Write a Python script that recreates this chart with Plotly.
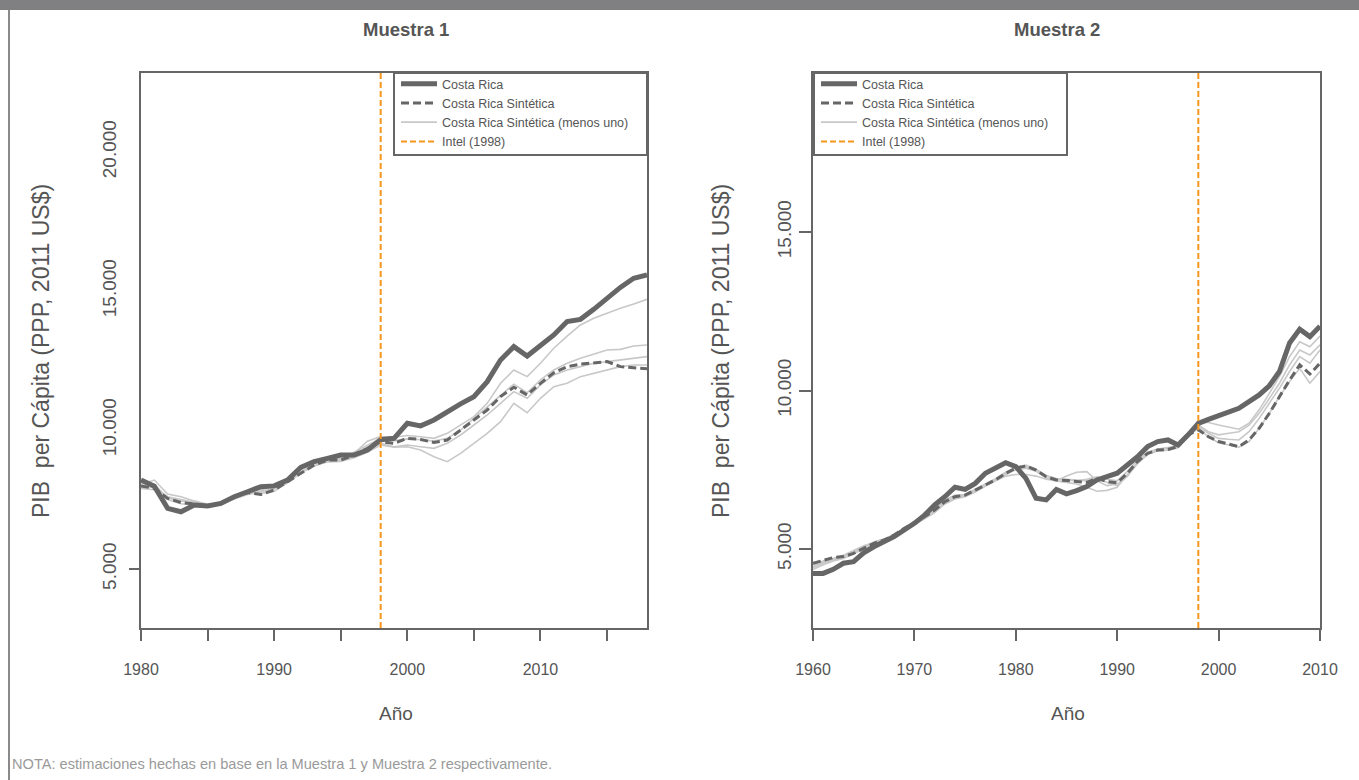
import plotly.graph_objects as go

# ---------------- data: Muestra 1 ----------------
years1 = list(range(1980, 2019))
cr1 = [8200, 7980, 7180, 7060, 7300, 7270, 7360, 7600, 7780, 7960,
       7990, 8200, 8660, 8860, 8980, 9100, 9100, 9280, 9650, 9700,
       10240, 10150, 10360, 10660, 10940, 11200, 11740, 12520, 13000, 12660,
       13060, 13420, 13900, 13980, 14340, 14740, 15130, 15460, 15580]
syn1 = [7990, 7900, 7540, 7390, 7340, 7270, 7390, 7600, 7750, 7680,
        7840, 8140, 8470, 8740, 8920, 8920, 9100, 9340, 9580, 9520,
        9700, 9660, 9550, 9640, 10000, 10360, 10720, 11200, 11540, 11260,
        11680, 12060, 12280, 12370, 12420, 12460, 12280, 12250, 12200]
loo1_a = [8050, 8200, 7700, 7600, 7450, 7330, 7350, 7520, 7680, 7800,
          7900, 8150, 8560, 8800, 8950, 9000, 9150, 9600, 9760, 9740,
          9800, 9760, 9700, 9880, 10180, 10480, 10960, 11680, 12160, 11920,
          12400, 12940, 13380, 13780, 14020, 14200, 14380, 14530, 14700]
loo1_b = [7950, 7950, 7600, 7500, 7400, 7300, 7400, 7620, 7780, 7850,
          7950, 8250, 8620, 8820, 8900, 8960, 9200, 9450, 9700, 9620,
          9680, 9650, 9600, 9700, 10000, 10420, 10840, 11260, 11650, 11340,
          11800, 12160, 12400, 12580, 12720, 12880, 12900, 13020, 13060]
loo1_c = [7900, 7850, 7500, 7350, 7300, 7250, 7350, 7580, 7720, 7720,
          7800, 8100, 8450, 8700, 8880, 8900, 9050, 9300, 9520, 9400,
          9460, 9400, 9340, 9520, 9820, 10180, 10540, 10960, 11380, 11140,
          11620, 11980, 12160, 12280, 12400, 12460, 12520, 12580, 12640]
loo1_d = [8000, 8050, 7550, 7450, 7380, 7280, 7380, 7560, 7700, 7780,
          7880, 8180, 8500, 8720, 8850, 8870, 9000, 9200, 9460, 9380,
          9400, 9280, 9040, 8860, 9160, 9520, 9880, 10300, 10960, 10620,
          11140, 11560, 11680, 11920, 12040, 12180, 12280, 12340, 12340]

# ---------------- data: Muestra 2 ----------------
years2 = list(range(1960, 2011))
cr2 = [4230, 4230, 4360, 4550, 4600, 4880, 5070, 5230, 5390, 5600,
       5810, 6070, 6390, 6650, 6950, 6880, 7070, 7390, 7550, 7720,
       7600, 7230, 6600, 6550, 6880, 6740, 6840, 6970, 7180, 7300,
       7390, 7650, 7910, 8230, 8390, 8440, 8280, 8600, 8960, 9090,
       9200, 9300, 9440, 9650, 9860, 10150, 10600, 11500, 11930, 11700, 12030]
syn2 = [4550, 4650, 4730, 4760, 4860, 5020, 5180, 5280, 5440, 5650,
        5830, 6020, 6230, 6490, 6650, 6700, 6860, 7020, 7180, 7390,
        7550, 7620, 7490, 7280, 7180, 7160, 7130, 7100, 7230, 7130,
        7090, 7390, 7760, 8020, 8120, 8140, 8230, 8600, 8760, 8540,
        8390, 8310, 8230, 8440, 8810, 9280, 9810, 10330, 10810, 10520, 10860]
loo2_a = [4450, 4600, 4700, 4800, 4950, 5100, 5200, 5300, 5450, 5650,
          5880, 6100, 6300, 6550, 6700, 6700, 6850, 7000, 7150, 7300,
          7350, 7350, 7300, 7200, 7150, 7300, 7420, 7440, 7150, 7000,
          7050, 7300, 7700, 8000, 8150, 8180, 8280, 8600, 8990, 8990,
          8910, 8840, 8780, 8970, 9390, 9910, 10440, 11070, 11540, 11380, 11720]
loo2_b = [4400, 4550, 4650, 4750, 4900, 5050, 5150, 5280, 5420, 5600,
          5800, 6000, 6200, 6480, 6620, 6680, 6840, 7000, 7200, 7400,
          7560, 7600, 7500, 7300, 7200, 7180, 7150, 7200, 7280, 7200,
          7150, 7450, 7800, 8050, 8150, 8200, 8250, 8560, 8910, 8700,
          8600, 8650, 8700, 8910, 9280, 9750, 10230, 10810, 11280, 11120, 11440]
loo2_c = [4350, 4500, 4620, 4700, 4850, 5000, 5120, 5250, 5400, 5580,
          5760, 5950, 6150, 6420, 6580, 6650, 6800, 6980, 7150, 7350,
          7500, 7550, 7450, 7250, 7150, 7100, 7050, 6950, 6820, 6850,
          6950, 7350, 7700, 7980, 8100, 8120, 8200, 8550, 8860, 8650,
          8490, 8460, 8440, 8700, 9120, 9600, 10070, 10600, 11070, 10860, 11280]
loo2_d = [4500, 4620, 4680, 4780, 4920, 5080, 5220, 5320, 5460, 5640,
          5850, 6050, 6260, 6520, 6680, 6720, 6880, 7050, 7220, 7420,
          7580, 7650, 7520, 7320, 7220, 7200, 7180, 7150, 7250, 7100,
          7000, 7300, 7720, 8000, 8100, 8120, 8200, 8580, 8810, 8540,
          8350, 8280, 8210, 8390, 8810, 9280, 9810, 10280, 10700, 10230, 10600]

intel_year = 1998

xticks1 = [1980, 1985, 1990, 1995, 2000, 2005, 2010, 2015]
xlabels1 = ["1980", "", "1990", "", "2000", "", "2010", ""]
xticks2 = [1960, 1970, 1980, 1990, 2000, 2010]
xlabels2 = ["1960", "1970", "1980", "1990", "2000", "2010"]
yticks1 = [5000, 10000, 15000, 20000]
ylabels1 = ["5.000", "10.000", "15.000", "20.000"]
yticks2 = [5000, 10000, 15000]
ylabels2 = ["5.000", "10.000", "15.000"]

for s in (cr1, syn1, loo1_a, loo1_b, loo1_c, loo1_d):
    assert len(s) == len(years1)
for s in (cr2, syn2, loo2_a, loo2_b, loo2_c, loo2_d):
    assert len(s) == len(years2)

# ---------------- styling ----------------
W, H = 1359, 780
FONT = "Liberation Sans, Arial, Helvetica, sans-serif"
TXT = "#555555"
DARK = "#666666"
LIGHT = "#c8c8c8"
ORANGE = "#f7961c"

yr1 = [2878, 22842]
yr2 = [2508, 20016]

fig = go.Figure()


def add_panel(years, cr, syn, loos, xa, ya, legend, yrange):
    for i, s in enumerate(loos):
        fig.add_trace(go.Scatter(
            x=years, y=s, mode="lines", xaxis=xa, yaxis=ya,
            line=dict(color=LIGHT, width=1.6),
            name="Costa Rica Sintética (menos uno)", legendgroup=legend + "loo",
            showlegend=(i == 0), legend=legend, legendrank=3))
    fig.add_trace(go.Scatter(
        x=years, y=syn, mode="lines", xaxis=xa, yaxis=ya,
        line=dict(color=DARK, width=3, dash="8px,4px"),
        name="Costa Rica Sintética", legend=legend, legendrank=2))
    fig.add_trace(go.Scatter(
        x=years, y=cr, mode="lines", xaxis=xa, yaxis=ya,
        line=dict(color=DARK, width=5),
        name="Costa Rica", legend=legend, legendrank=1))
    fig.add_trace(go.Scatter(
        x=[intel_year, intel_year], y=yrange, mode="lines", xaxis=xa, yaxis=ya,
        line=dict(color=ORANGE, width=2, dash="6px,3px"),
        name="Intel (1998)", legend=legend, legendrank=4))


add_panel(years1, cr1, syn1, [loo1_a, loo1_b, loo1_c, loo1_d], "x", "y", "legend", yr1)
add_panel(years2, cr2, syn2, [loo2_a, loo2_b, loo2_c, loo2_d], "x2", "y2", "legend2", yr2)

TOP, BOT = 73, 628
dom_y = [1 - BOT / H, 1 - TOP / H]
axis_common = dict(showgrid=False, zeroline=False, showline=True, mirror=True,
                   linecolor=DARK, linewidth=2, ticks="outside", tickwidth=2,
                   tickcolor=DARK, automargin=False)

legend_common = dict(xanchor="left", yanchor="top", bgcolor="rgba(0,0,0,0)",
                     borderwidth=0, font=dict(size=12.5, color=TXT),
                     traceorder="normal", tracegroupgap=0, itemwidth=36)

fig.update_layout(
    width=W, height=H,
    margin=dict(l=0, r=0, t=0, b=0, pad=0, autoexpand=False),
    paper_bgcolor="white", plot_bgcolor="white",
    font=dict(family=FONT, color=TXT),
    xaxis=dict(domain=[141 / W, 647 / W], range=[1980, 2018], anchor="y",
               tickvals=xticks1, ticktext=xlabels1, ticklen=11,
               tickfont=dict(size=16, color=TXT), ticklabelstandoff=15,
               **axis_common),
    yaxis=dict(domain=dom_y, range=yr1, anchor="x",
               tickvals=yticks1, ticktext=ylabels1, tickangle=-90, ticklen=12,
               tickfont=dict(size=19, color=TXT), ticklabelstandoff=3,
               **{**axis_common, "tickcolor": "rgba(0,0,0,0)"}),
    xaxis2=dict(domain=[813 / W, 1320 / W], range=[1960, 2010], anchor="y2",
                tickvals=xticks2, ticktext=xlabels2, ticklen=11,
                tickfont=dict(size=16, color=TXT), ticklabelstandoff=15,
                **axis_common),
    yaxis2=dict(domain=dom_y, range=yr2, anchor="x2",
                tickvals=yticks2, ticktext=ylabels2, tickangle=-90, ticklen=12,
                tickfont=dict(size=19, color=TXT), ticklabelstandoff=0,
                **axis_common),
    legend=dict(x=396 / W, y=1 - (TOP - 4) / H, **legend_common),
    legend2=dict(x=816 / W, y=1 - (TOP - 4) / H, **legend_common),
    showlegend=True,
)

# frame decorations
fig.add_shape(type="rect", xref="paper", yref="paper", x0=0, x1=1,
              y0=1 - 10 / H, y1=1, fillcolor="#808083", line=dict(width=0), layer="above")
fig.add_shape(type="line", xref="paper", yref="paper", x0=9 / W, x1=9 / W,
              y0=0, y1=1 - 10 / H, line=dict(color="#8a8a8a", width=2))
# legend boxes
for x0, x1 in ((394, 647), (814, 1067)):
    fig.add_shape(type="rect", xref="paper", yref="paper", x0=x0 / W, x1=x1 / W,
                  y0=1 - 155 / H, y1=1 - TOP / H, fillcolor="white",
                  line=dict(color=DARK, width=2), layer="below")
# single visible tick at 5.000 on the left panel
fig.add_shape(type="line", xref="x domain", yref="y", x0=-12 / 506, x1=0,
              y0=yticks1[0], y1=yticks1[0], line=dict(color=DARK, width=2))

ann = dict(xref="paper", yref="paper", showarrow=False)
fig.add_annotation(text="<b>Muestra 1</b>", x=406 / W, y=1 - 30 / H,
                   xanchor="center", yanchor="middle", font=dict(size=18.5, color=TXT), **ann)
fig.add_annotation(text="<b>Muestra 2</b>", x=1057 / W, y=1 - 30 / H,
                   xanchor="center", yanchor="middle", font=dict(size=18.5, color=TXT), **ann)
for xc in (41, 721):
    fig.add_annotation(text="PIB  per Cápita (PPP, 2011 US$)", x=xc / W, y=1 - 351 / H,
                       textangle=-90, xanchor="center", yanchor="middle",
                       font=dict(size=23, color=TXT), **ann)
for xc in (396, 1068):
    fig.add_annotation(text="Año", x=xc / W, y=1 - 713 / H, xanchor="center",
                       yanchor="middle", font=dict(size=19, color=TXT), **ann)
fig.add_annotation(text="NOTA: estimaciones hechas en base en la Muestra 1 y Muestra 2 respectivamente.",
                   x=10 / W, y=1 - 764 / H, xanchor="left", yanchor="middle",
                   font=dict(size=14.6, color="#9a9a9a"), **ann)

fig.write_html("out.html")
